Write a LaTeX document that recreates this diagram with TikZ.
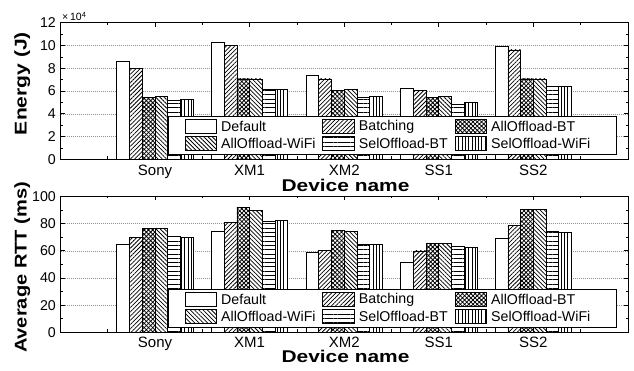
\documentclass[tikz,border=0pt]{standalone}
\usepackage{fontspec}
\setmainfont{Liberation Sans}
\usetikzlibrary{patterns.meta}
\tikzset{
  frame/.style={draw=black,line width=0.9bp},
  tickmark/.style={draw=black,line width=0.7bp},
  gridline/.style={draw=gray!85,line width=0.6bp,dash pattern=on 1bp off 1bp},
  barbase/.style={draw=black,line width=0.8bp},
  bar0/.style={barbase,fill=white},
  bar1/.style={barbase,preaction={fill=white},pattern={Lines[angle=45,distance=3bp,line width=0.75bp]}},
  bar2/.style={barbase,preaction={fill=white},pattern={Hatch[angle=45,distance=3bp,line width=0.8bp]}},
  bar3/.style={barbase,preaction={fill=white},pattern={Lines[angle=-45,distance=3bp,line width=0.75bp]}},
  bar4/.style={barbase,preaction={fill=white},pattern={Lines[angle=0,distance=4.3bp,line width=0.75bp]}},
  bar5/.style={barbase,preaction={fill=white},pattern={Lines[angle=90,distance=3.3bp,line width=0.75bp]}},
  ticklbl/.style={font=\fontsize{14.2bp}{16bp}\selectfont,inner sep=0pt},
  xticklbl/.style={font=\fontsize{15bp}{17bp}\selectfont,inner sep=0pt,anchor=base},
  leglbl/.style={font=\fontsize{14.2bp}{16bp}\selectfont,inner sep=0pt,anchor=west},
  axlbl/.style={font=\fontsize{17bp}{19bp}\selectfont\bfseries,inner sep=0pt,anchor=base},
  legbox/.style={draw=black,line width=0.9bp,fill=white},
}
\newcommand\drawlegendbox[2]{%
  \draw[legbox] (168,#1) rectangle (616,#1+38.7);
  \foreach \c/\r/\s/\t [count=\n] in {185/10.5/bar0/Default,322.7/10.5/bar1/Batching,455/10.5/bar2/AllOffload-BT,
      185/27.6/bar3/AllOffload-WiFi,322.7/27.6/bar4/SelOffload-BT,455/27.6/bar5/SelOffload-WiFi}{
    \tikzset{cur/.style/.expanded={\s}}
    \draw[cur] (\c,#1+\r-7.2) rectangle (\c+31.7,#1+\r+7.2);
    \node[leglbl] (#2\n) at (\c+36,#1+\r) {\t};
  }%
}
\begin{document}
\begin{tikzpicture}[x=1bp,y=-1bp]
\useasboundingbox (0,0) rectangle (634,370);
% ================= TOP PLOT =================
\foreach \v in {2,4,6,8,10}{
  \draw[gridline] (60.5,{159.4-11.39*\v}) -- (628,{159.4-11.39*\v});
}
\foreach \u in {0.5,1,...,5.5}{
  \draw[tickmark] ({60.5+94.58*\u},159.4) -- ({60.5+94.58*\u},156.4);
}
\foreach \g/\vals in {1/{8.64,8.02,5.47,5.56,5.17,5.29},2/{10.26,9.99,7.06,7.06,6.11,6.17},
    3/{7.41,7.06,6.09,6.17,5.47,5.56},4/{6.26,6.09,5.47,5.56,4.85,4.97},5/{9.96,9.61,7.06,7.06,6.44,6.44}}{
  \foreach \v [count=\k from 0] in \vals {
    \pgfmathsetmacro\xl{60.5+94.58*\g-38.2+12.733*\k}
    \pgfmathsetmacro\xr{\xl+12.733}
    \pgfmathsetmacro\yt{159.4-11.39*\v}
    \tikzset{cur/.style/.expanded={bar\k}}
    \draw[cur] (\xl,159.4) rectangle (\xr,\yt);
  }
}
\draw[frame] (60.5,22.7) rectangle (628,159.4);
\foreach \v in {0,2,...,12}{
  \draw[tickmark] (60.5,{159.4-11.39*\v}) -- (64.5,{159.4-11.39*\v});
  \draw[tickmark] (628,{159.4-11.39*\v}) -- (624,{159.4-11.39*\v});
  \node[ticklbl,anchor=east] (ty\v) at (56,{159.4-11.39*\v}) {\v};
}
\foreach \v in {1,3,...,11}{
  \draw[tickmark] (60.5,{159.4-11.39*\v}) -- (62.5,{159.4-11.39*\v});
  \draw[tickmark] (628,{159.4-11.39*\v}) -- (626,{159.4-11.39*\v});
}
\foreach \u in {1,...,5}{
  \draw[tickmark] ({60.5+94.58*\u},22.7) -- ({60.5+94.58*\u},26.7);
}
\foreach \u in {0.5,1.5,...,5.5}{
  \draw[tickmark] ({60.5+94.58*\u},22.7) -- ({60.5+94.58*\u},24.7);
}
\foreach \g/\t in {1/Sony,2/XM1,3/XM2,4/SS1,5/SS2}{
  \node[xticklbl] (tx\g) at ({60.5+94.58*\g},175) {\t};
}
\node[inner sep=0pt,anchor=base west,font=\fontsize{10.5bp}{12bp}\selectfont] (expo) at (62,20.7)
  {×\,10\raisebox{0.55ex}{\fontsize{7.5bp}{8bp}\selectfont 4}};
\drawlegendbox{116}{lt}
\node[axlbl,rotate=90] (ylabA) at (26.7,83.5) {\scalebox{1.24}[1]{Energy (J)}};
\node[axlbl] (xlabA) at (345.5,191.6) {\scalebox{1.23}[1]{Device name}};
% ================= BOTTOM PLOT =================
\foreach \v in {20,40,60,80}{
  \draw[gridline] (60.5,{332.4-1.36*\v}) -- (628,{332.4-1.36*\v});
}
\foreach \u in {0.5,1,...,5.5}{
  \draw[tickmark] ({60.5+94.58*\u},332.4) -- ({60.5+94.58*\u},329.4);
}
\foreach \g/\vals in {1/{64.5,70.1,76.5,76.5,70.6,69.6},2/{74.0,80.9,92.0,89.8,81.4,82.4},
    3/{59.1,60.1,75.0,74.3,65.0,64.5},4/{51.8,59.9,65.5,65.5,63.5,62.3},5/{68.9,78.7,90.5,90.5,74.3,73.8}}{
  \foreach \v [count=\k from 0] in \vals {
    \pgfmathsetmacro\xl{60.5+94.58*\g-38.2+12.733*\k}
    \pgfmathsetmacro\xr{\xl+12.733}
    \pgfmathsetmacro\yt{332.4-1.36*\v}
    \tikzset{cur/.style/.expanded={bar\k}}
    \draw[cur] (\xl,332.4) rectangle (\xr,\yt);
  }
}
\draw[frame] (60.5,196.4) rectangle (628,332.4);
\foreach \v in {0,20,...,100}{
  \draw[tickmark] (60.5,{332.4-1.36*\v}) -- (64.5,{332.4-1.36*\v});
  \draw[tickmark] (628,{332.4-1.36*\v}) -- (624,{332.4-1.36*\v});
  \node[ticklbl,anchor=east] (by\v) at (56,{332.4-1.36*\v}) {\v};
}
\foreach \v in {10,30,...,90}{
  \draw[tickmark] (60.5,{332.4-1.36*\v}) -- (62.5,{332.4-1.36*\v});
  \draw[tickmark] (628,{332.4-1.36*\v}) -- (626,{332.4-1.36*\v});
}
\foreach \u in {1,...,5}{
  \draw[tickmark] ({60.5+94.58*\u},196.4) -- ({60.5+94.58*\u},200.4);
}
\foreach \u in {0.5,1.5,...,5.5}{
  \draw[tickmark] ({60.5+94.58*\u},196.4) -- ({60.5+94.58*\u},198.4);
}
\foreach \g/\t in {1/Sony,2/XM1,3/XM2,4/SS1,5/SS2}{
  \node[xticklbl] (bx\g) at ({60.5+94.58*\g},347) {\t};
}
\drawlegendbox{289}{lb}
\node[axlbl,rotate=90] (ylabB) at (26.7,267.5) {\scalebox{1.18}[1]{Average RTT (ms)}};
\node[axlbl] (xlabB) at (345.5,362.6) {\scalebox{1.23}[1]{Device name}};
\end{tikzpicture}
\end{document}
